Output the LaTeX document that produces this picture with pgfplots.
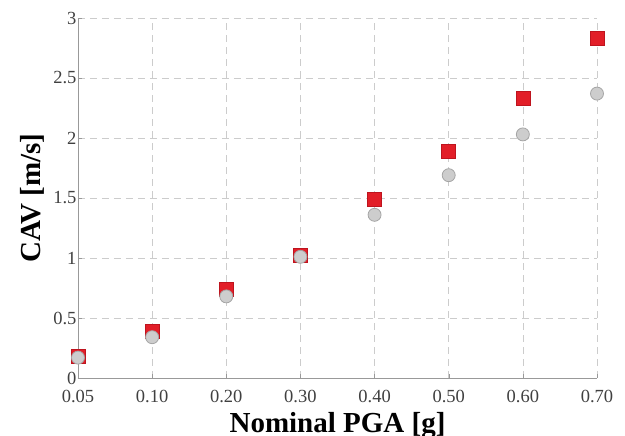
\documentclass[border=0pt]{standalone}
\usepackage{fontspec}
\setmainfont{Liberation Serif}
\usepackage{pgfplots}
\pgfplotsset{compat=1.18}
\definecolor{sqred}{RGB}{226,30,40}
\definecolor{sqedge}{RGB}{190,20,30}
\definecolor{cfill}{RGB}{205,205,205}
\definecolor{cedge}{RGB}{165,165,165}
\begin{document}
\begin{tikzpicture}
\begin{axis}[
  scale only axis,
  width=519pt, height=360pt,
  xmin=0, xmax=7, ymin=0, ymax=3,
  xtick={0,1,2,3,4,5,6,7},
  xticklabels={0.05,0.10,0.20,0.30,0.40,0.50,0.60,0.70},
  ytick={0,0.5,1,1.5,2,2.5,3},
  axis x line=bottom, axis y line=left,
  axis line style={-, color=gray!80},
  tick style={color=gray!80},
  tick align=inside,
  major tick length=4pt,
  grid=major,
  major grid style={dash pattern=on 7pt off 5pt, color=gray!40, line width=0.6pt},
  /pgf/number format/assume math mode=true,
  ticklabel style={font=\fontsize{18.5}{20}\selectfont, text=black!75},
  xticklabel style={yshift=-9pt},
  yticklabel style={xshift=2pt},
  xlabel={\textbf{Nominal PGA [g]}},
  ylabel={\textbf{CAV [m/s]}},
  label style={font=\fontsize{29}{32}\selectfont},
  xlabel style={yshift=-2pt},
  ylabel style={yshift=2pt},
  clip=false,
]
\addplot[only marks, mark=square*, mark size=7pt, mark options={fill=sqred, draw=sqedge, line width=0.6pt}]
  coordinates {(0,0.18) (1,0.39) (2,0.74) (3,1.025) (4,1.49) (5,1.89) (6,2.33) (7,2.83)};
\addplot[only marks, mark=*, mark size=6.5pt, mark options={fill=cfill, draw=cedge, line width=0.8pt}]
  coordinates {(0,0.17) (1,0.34) (2,0.68) (3,1.01) (4,1.36) (5,1.69) (6,2.03) (7,2.37)};
\end{axis}
\pgfresetboundingbox
\path[use as bounding box] (-78pt,-58pt) rectangle (547pt,378pt);
\end{tikzpicture}
\end{document}
